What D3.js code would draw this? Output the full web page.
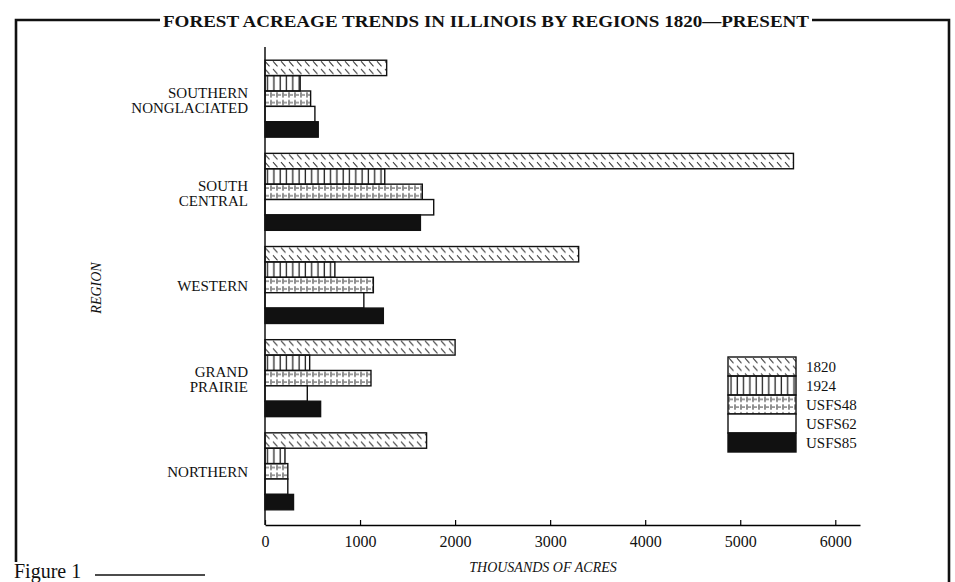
<!DOCTYPE html>
<html>
<head>
<meta charset="utf-8">
<script src="https://cdn.jsdelivr.net/npm/d3@7"></script>
<style>
  body { margin: 0; background: #fff; }
  text { font-family: 'Liberation Serif', 'DejaVu Serif', serif; fill: #111; }
  .tick text { font-size: 16px; }
  .region { font-size: 15px; }
  .axis-label { font-size: 14px; font-style: italic; }
  .legend text { font-size: 15px; }
</style>
</head>
<body>
<svg width="955" height="582"></svg>
<script>
// data (thousands of acres)
const regions = ['SOUTHERN NONGLACIATED', 'SOUTH CENTRAL', 'WESTERN', 'GRAND PRAIRIE', 'NORTHERN']
const regionLines = [['SOUTHERN', 'NONGLACIATED'], ['SOUTH', 'CENTRAL'], ['WESTERN'], ['GRAND', 'PRAIRIE'], ['NORTHERN']]
const series = ['1820', '1924', 'USFS48', 'USFS62', 'USFS85']
const acres1820 = [1280, 5560, 3300, 2000, 1700]
const acres1924 = [370, 1260, 735, 470, 210]
const acresUSFS48 = [480, 1655, 1140, 1115, 240]
const acresUSFS62 = [525, 1775, 1040, 445, 240]
const acresUSFS85 = [560, 1635, 1245, 585, 300]
const xTicks = [0, 1000, 2000, 3000, 4000, 5000, 6000]

const valuesBySeries = {
    '1820': acres1820,
    '1924': acres1924,
    'USFS48': acresUSFS48,
    'USFS62': acresUSFS62,
    'USFS85': acresUSFS85
}

const data = []
regions.forEach((r, i) => {
    series.forEach(s => data.push({ region: r, series: s, value: valuesBySeries[s][i] }))
})

const svg = d3.select('svg')

// patterns
const defs = svg.append('defs')
const p1820 = defs.append('pattern').attr('id', 'p1820')
    .attr('patternUnits', 'userSpaceOnUse').attr('width', 8).attr('height', 7.7)
p1820.append('line').attr('x1', 1).attr('y1', 1).attr('x2', 5.5).attr('y2', 6.2)
    .attr('stroke', '#333').attr('stroke-width', 1)

const p1924 = defs.append('pattern').attr('id', 'p1924')
    .attr('patternUnits', 'userSpaceOnUse').attr('width', 6.3).attr('height', 10)
p1924.append('line').attr('x1', 3).attr('y1', 0).attr('x2', 3).attr('y2', 10)
    .attr('stroke', '#222').attr('stroke-width', 1.3)

const p48 = defs.append('pattern').attr('id', 'p48')
    .attr('patternUnits', 'userSpaceOnUse').attr('width', 6).attr('height', 7.7)
p48.append('line').attr('x1', 1).attr('y1', 1.2).attr('x2', 1).attr('y2', 6.5)
    .attr('stroke', '#444').attr('stroke-width', 1.2)
p48.append('line').attr('x1', 2).attr('y1', 3.9).attr('x2', 5).attr('y2', 3.9)
    .attr('stroke', '#555').attr('stroke-width', 1.1)

const fills = {
    '1820': 'url(#p1820)',
    '1924': 'url(#p1924)',
    'USFS48': 'url(#p48)',
    'USFS62': '#fff',
    'USFS85': '#111'
}

// scales
const xScale = d3.scaleLinear()
    .domain([0, 6260])
    .range([265, 860])

const yScale = d3.scaleBand()
    .domain(regions)
    .range([44, 526])
    .padding(0.174)

const yInner = d3.scaleBand()
    .domain(series)
    .range([0, yScale.bandwidth()])

// frame
const frame = svg.append('g').attr('fill', 'none').attr('stroke', '#111').attr('stroke-width', 2.6)
frame.append('path').attr('d', 'M16,562 L16,20 L160,20')
frame.append('path').attr('d', 'M812,20 L949,20 L949,582')

svg.append('text')
    .attr('x', 163)
    .attr('y', 27)
    .attr('textLength', 646)
    .attr('lengthAdjust', 'spacingAndGlyphs')
    .style('font-size', '17px')
    .style('font-weight', 'bold')
    .text('FOREST ACREAGE TRENDS IN ILLINOIS BY REGIONS 1820—PRESENT')

// bars
const groups = svg.selectAll('g.region-group')
    .data(regions)
    .enter()
    .append('g')
    .attr('class', 'region-group')
    .attr('transform', d => `translate(0,${yScale(d)})`)

groups.selectAll('rect')
    .data(r => data.filter(d => d.region === r))
    .enter()
    .append('rect')
    .attr('x', xScale(0))
    .attr('y', d => yInner(d.series))
    .attr('width', d => xScale(d.value) - xScale(0))
    .attr('height', yInner.bandwidth())
    .attr('fill', d => fills[d.series])
    .attr('stroke', '#111')
    .attr('stroke-width', 1.4)

// region labels
regions.forEach((r, i) => {
    const c = yScale(r) + yScale.bandwidth() / 2
    const lines = regionLines[i]
    const t = svg.append('text')
        .attr('class', 'region')
        .attr('text-anchor', 'end')
    if (lines.length === 1) {
        t.append('tspan').attr('x', 248).attr('y', c + 6).text(lines[0])
    } else {
        t.append('tspan').attr('x', 248).attr('y', c - 1).text(lines[0])
        t.append('tspan').attr('x', 248).attr('y', c + 14).text(lines[1])
    }
})

// axes
const xAxis = d3.axisBottom(xScale)
    .tickValues(xTicks)
    .tickFormat(d3.format('d'))
    .tickSizeInner(-5)
    .tickSizeOuter(0)
    .tickPadding(11)

const xg = svg.append('g')
    .attr('transform', 'translate(0,525)')
    .call(xAxis)
xg.select('.domain').attr('stroke-width', 1.5)
xg.selectAll('.tick line').attr('stroke-width', 1.2)
xg.selectAll('.tick text').attr('font-family', null).attr('font-size', null)

svg.append('line')
    .attr('x1', xScale(0)).attr('x2', xScale(0))
    .attr('y1', 47).attr('y2', 525)
    .attr('stroke', '#111').attr('stroke-width', 1.5)

svg.append('text')
    .attr('class', 'axis-label')
    .attr('x', 543)
    .attr('y', 572)
    .attr('text-anchor', 'middle')
    .text('THOUSANDS OF ACRES')

svg.append('text')
    .attr('class', 'axis-label')
    .attr('transform', 'translate(101,288) rotate(-90)')
    .attr('text-anchor', 'middle')
    .text('REGION')

// legend
const legend = svg.append('g').attr('class', 'legend').attr('transform', 'translate(728,357)')
const rowH = 19
legend.selectAll('rect')
    .data(series)
    .enter()
    .append('rect')
    .attr('x', 0)
    .attr('y', (d, i) => i * rowH)
    .attr('width', 68)
    .attr('height', rowH)
    .attr('fill', d => fills[d])
    .attr('stroke', '#111')
    .attr('stroke-width', 1.4)
legend.selectAll('text')
    .data(series)
    .enter()
    .append('text')
    .attr('x', 78)
    .attr('y', (d, i) => i * rowH + rowH / 2 + 5)
    .text(d => d)

// caption
svg.append('text')
    .attr('x', 14)
    .attr('y', 578)
    .style('font-size', '20px')
    .text('Figure 1')
svg.append('line')
    .attr('x1', 95).attr('x2', 205)
    .attr('y1', 575).attr('y2', 575)
    .attr('stroke', '#111').attr('stroke-width', 1.3)
</script>
</body>
</html>
